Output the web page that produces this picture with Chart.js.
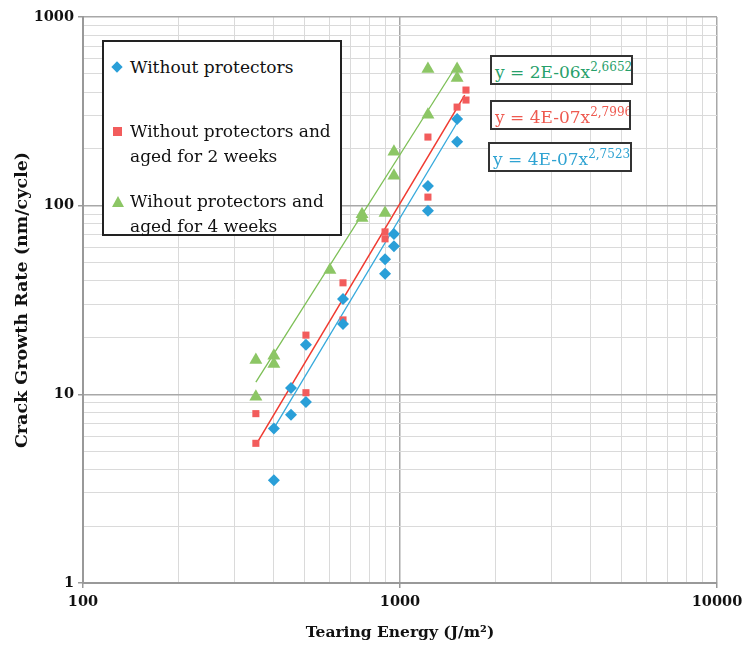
<!DOCTYPE html>
<html>
<head>
    <title>Crack Growth Rate vs Tearing Energy</title>
    <script src="https://cdn.jsdelivr.net/npm/chart.js"></script>
    <style>
        body { margin: 0; background: #fff; }
        #wrap { position: relative; width: 745px; height: 646px; }
        .box { position: absolute; background: #fff; border: 2px solid #222; font-family: "DejaVu Serif", serif; }
        .item { position: absolute; left: 26px; font-size: 17px; line-height: 25px; color: #111; white-space: nowrap; }
        .mk { position: absolute; left: 9px; }
        .eq { position: absolute; background: #fff; border: 2px solid #333; font-family: "DejaVu Serif", serif;
              font-size: 17px; height: 30px; line-height: 30px; padding-left: 3px; box-sizing: border-box;
              white-space: nowrap; overflow: hidden; }
        .eq sup { font-size: 12px; vertical-align: 7px; line-height: 0; }
    </style>
</head>
<body>
<div id="wrap">
    <canvas id="crackChart" width="745" height="646"></canvas>

    <div class="box" style="left:102px; top:40px; width:236px; height:192px;">
        <div class="mk" style="top:21px; width:8px; height:8px; background:#2a9fd8; transform:rotate(45deg);"></div>
        <div class="item" style="top:13px;">Without protectors</div>
        <div class="mk" style="top:85px; width:9px; height:9px; background:#f25c5c;"></div>
        <div class="item" style="top:77px;">Without protectors and<br>aged for 2 weeks</div>
        <div class="mk" style="top:154px; width:0; height:0; left:8px; border-left:6px solid transparent; border-right:6px solid transparent; border-bottom:11px solid #8cc665;"></div>
        <div class="item" style="top:147px;">Wihout protectors and<br>aged for 4 weeks</div>
    </div>

    <div class="eq" style="left:490px; top:55px; width:143px; color:#27a06a;">y = 2E-06x<sup>2,6652</sup></div>
    <div class="eq" style="left:490px; top:100px; width:141px; color:#ee5a50;">y = 4E-07x<sup>2,7996</sup></div>
    <div class="eq" style="left:488px; top:142px; width:144px; color:#2fa3d2;">y = 4E-07x<sup>2,7523</sup></div>
</div>

<script>
    var blueX = [400, 400, 453, 453, 505, 505, 661, 661, 897, 897, 957, 957, 1225, 1225, 1514, 1514];
    var blueY = [3.5, 6.6, 10.8, 7.8, 9.1, 18.3, 23.6, 32, 52, 43.5, 70.8, 61, 127, 94, 218, 288];

    var redX = [351, 351, 505, 505, 661, 661, 897, 897, 1225, 1225, 1514, 1615, 1615];
    var redY = [5.5, 7.9, 10.2, 20.6, 24.8, 39, 72.6, 66.7, 111, 231, 333, 363, 410];

    var greenX = [351, 351, 400, 400, 601, 759, 759, 897, 957, 957, 1225, 1225, 1514, 1514];
    var greenY = [9.7, 15.2, 16.0, 14.5, 45.6, 86, 90, 91.5, 144, 193, 303, 530, 530, 475];

    // power trend lines (straight on log-log), end points
    var blueFitX = [400, 1514];
    var blueFitY = [6.6, 275];
    var redFitX = [351, 1600];
    var redFitY = [5.4, 385];
    var greenFitX = [351, 1514];
    var greenFitY = [11.6, 560];

    var xDecades = [100, 1000, 10000];
    var yDecades = [1, 10, 100, 1000];
    var minorSteps = [1, 2, 3, 4, 5, 6, 7, 8, 9];

    function pts(xs, ys) {
        return xs.map(function(x, i) { return {x: x, y: ys[i]}; });
    }

    function logTicks(decades) {
        var out = [];
        for (var d = 0; d < decades.length - 1; d++) {
            minorSteps.forEach(function(m) { out.push({value: decades[d] * m}); });
        }
        out.push({value: decades[decades.length - 1]});
        return out;
    }

    function isMajor(v, decades) { return decades.indexOf(v) >= 0; }

    var tickFont = {family: 'DejaVu Serif', size: 14.5, weight: 'bold'};
    var titleFont = {family: 'DejaVu Serif', size: 15.5, weight: 'bold'};

    var ctx = document.getElementById('crackChart').getContext('2d');
    var crackChart = new Chart(ctx, {
        type: 'scatter',
        data: {
            datasets: [
                {label: 'Fit green', data: pts(greenFitX, greenFitY), showLine: true, borderColor: '#7cbf55', borderWidth: 1.3, pointRadius: 0, order: 3},
                {label: 'Fit red', data: pts(redFitX, redFitY), showLine: true, borderColor: '#f03a30', borderWidth: 1.5, pointRadius: 0, order: 3},
                {label: 'Fit blue', data: pts(blueFitX, blueFitY), showLine: true, borderColor: '#35a9dc', borderWidth: 1.3, pointRadius: 0, order: 3},
                {label: 'Without protectors', data: pts(blueX, blueY), pointStyle: 'rectRot', pointRadius: 6,
                 backgroundColor: '#2a9fd8', borderColor: '#2a9fd8', borderWidth: 0, order: 1},
                {label: 'Without protectors and aged for 2 weeks', data: pts(redX, redY), pointStyle: 'rect', pointRadius: 5,
                 backgroundColor: '#f25c5c', borderColor: '#f25c5c', borderWidth: 0, order: 1},
                {label: 'Wihout protectors and aged for 4 weeks', data: pts(greenX, greenY), pointStyle: 'triangle', pointRadius: 7.5,
                 backgroundColor: '#8cc665', borderColor: '#8cc665', borderWidth: 0, order: 2}
            ]
        },
        options: {
            responsive: false,
            animation: false,
            layout: {padding: {left: 12, right: 28, top: 17, bottom: 0}},
            plugins: {legend: {display: false}, tooltip: {enabled: false}},
            scales: {
                x: {
                    type: 'logarithmic',
                    min: 100, max: 10000,
                    afterBuildTicks: function(axis) { axis.ticks = logTicks(xDecades); },
                    afterFit: function(axis) { axis.height = 63; axis.paddingRight = 0; axis.paddingLeft = 0; },
                    ticks: {
                        autoSkip: false, maxRotation: 0, padding: 6, color: '#111', font: tickFont,
                        callback: function(v) { return isMajor(v, xDecades) ? String(v) : ''; }
                    },
                    grid: {
                        color: function(c) { return isMajor(c.tick.value, xDecades) ? '#a8a8a8' : '#dadada'; },
                        lineWidth: function(c) { return isMajor(c.tick.value, xDecades) ? 1.5 : 1; },
                        tickLength: 5,
                        tickColor: function(c) { return isMajor(c.tick.value, xDecades) ? '#999' : 'rgba(0,0,0,0)'; }
                    },
                    border: {color: '#999', width: 2},
                    title: {display: true, text: 'Tearing Energy (J/m²)', color: '#111', font: titleFont, padding: {top: 2}}
                },
                y: {
                    type: 'logarithmic',
                    min: 1, max: 1000,
                    afterBuildTicks: function(axis) { axis.ticks = logTicks(yDecades); },
                    afterFit: function(axis) { axis.width = 71; axis.paddingTop = 0; axis.paddingBottom = 0; },
                    ticks: {
                        autoSkip: false, padding: 4, color: '#111', font: tickFont,
                        callback: function(v) { return isMajor(v, yDecades) ? String(v) : ''; }
                    },
                    grid: {
                        color: function(c) { return isMajor(c.tick.value, yDecades) ? '#a8a8a8' : '#dadada'; },
                        lineWidth: function(c) { return isMajor(c.tick.value, yDecades) ? 1.5 : 1; },
                        tickLength: 5,
                        tickColor: function(c) { return isMajor(c.tick.value, yDecades) ? '#999' : 'rgba(0,0,0,0)'; }
                    },
                    border: {color: '#999', width: 2},
                    title: {display: true, text: 'Crack Growth Rate (nm/cycle)', color: '#111',
                            font: {family: 'DejaVu Serif', size: 17.5, weight: 'bold'}, padding: {top: 0, bottom: 2}}
                }
            }
        }
    });
</script>
</body>
</html>
